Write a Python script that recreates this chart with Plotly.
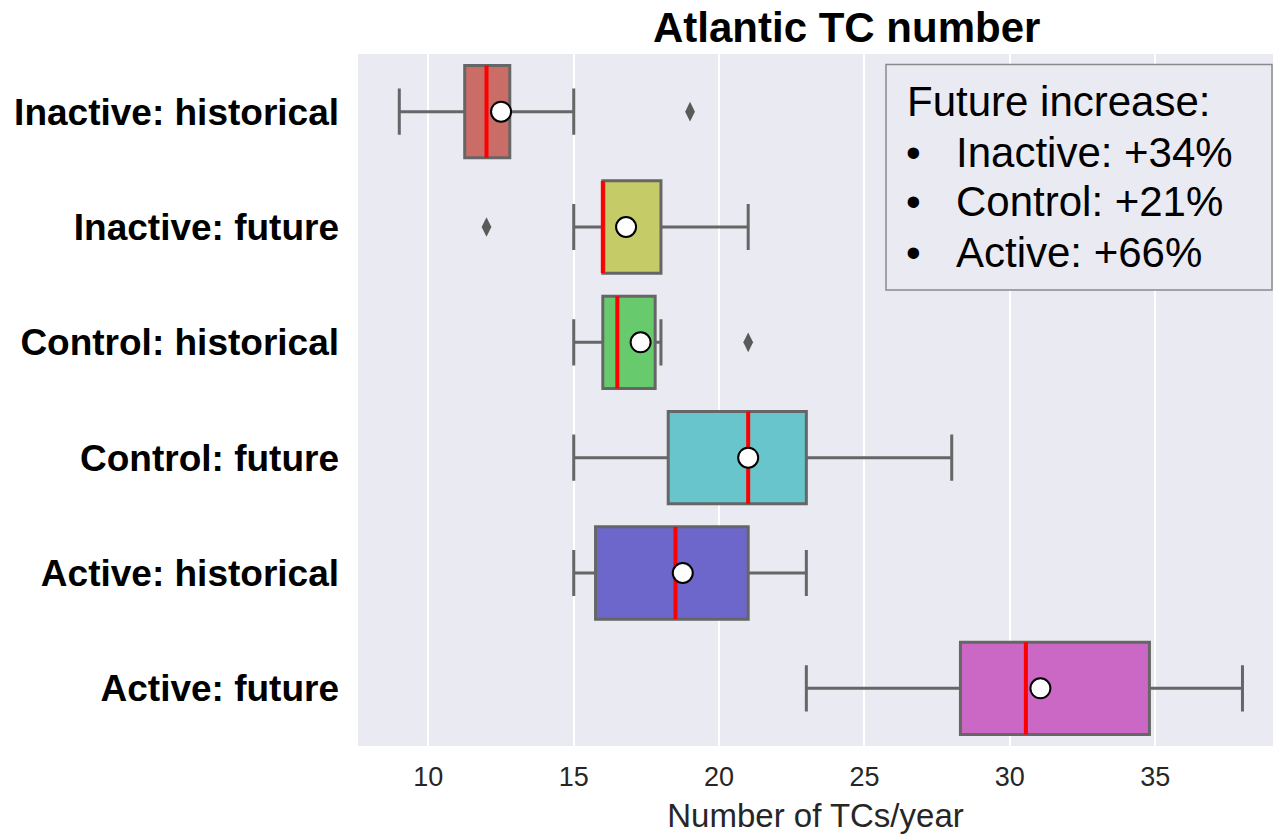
import plotly.graph_objects as go

# Box statistics of Atlantic TC counts per year, one row per experiment
categories = ["Inactive: historical", "Inactive: future", "Control: historical",
              "Control: future", "Active: historical", "Active: future"]
lower_whisker = [9.0, 15.0, 15.0, 15.0, 15.0, 23.0]
q1_vals = [11.25, 16.0, 16.0, 18.25, 15.75, 28.3]
median_vals = [12.0, 16.0, 16.5, 21.0, 18.5, 30.55]
q3_vals = [12.8, 18.0, 17.8, 23.0, 21.0, 34.8]
upper_whisker = [15.0, 21.0, 18.0, 28.0, 23.0, 38.0]
mean_vals = [12.5, 16.8, 17.3, 21.0, 18.75, 31.05]
outlier_cat = [0, 1, 2]
outlier_vals = [19.0, 12.0, 21.0]

box_colors = ["#CB6D67", "#C5CB67", "#67CB6D", "#67C5CB", "#6D67CB", "#CB67C5"]

legend_title = "Future increase:"
legend_items = ["Inactive: +34%", "Control: +21%", "Active: +66%"]

W, H = 1273, 835
L, R, T, B = 358, 0, 54, 89
PW, PH = W - L - R, H - T - B
FONT = "Liberation Sans, Arial, sans-serif"


def px(xp):
    return (xp - L) / PW


def py(yp):
    return 1 - (yp - T) / PH


fig = go.Figure()

for i, cat in enumerate(categories):
    fig.add_trace(go.Box(
        y=[i], q1=[q1_vals[i]], median=[median_vals[i]], q3=[q3_vals[i]],
        lowerfence=[lower_whisker[i]], upperfence=[upper_whisker[i]],
        orientation="h", width=0.8, whiskerwidth=0.5,
        fillcolor=box_colors[i], line=dict(color="#666666", width=3),
        boxpoints=False, showlegend=False, hoverinfo="skip",
    ))
    # red median line across the box
    fig.add_trace(go.Scatter(
        x=[median_vals[i], median_vals[i]], y=[i - 0.4, i + 0.4],
        mode="lines", line=dict(color="#FF0000", width=4),
        showlegend=False, hoverinfo="skip",
    ))

# outliers
fig.add_trace(go.Scatter(
    x=outlier_vals, y=outlier_cat, mode="markers",
    marker=dict(symbol="diamond-tall", size=14, color="#5A5A5A"),
    showlegend=False, hoverinfo="skip",
))

# means
fig.add_trace(go.Scatter(
    x=mean_vals, y=list(range(len(categories))), mode="markers",
    marker=dict(symbol="circle", size=20, color="white",
                line=dict(color="black", width=2)),
    showlegend=False, hoverinfo="skip",
))

# text box with future increases
fig.add_shape(type="rect", xref="paper", yref="paper",
              x0=px(886), x1=px(1272), y0=py(290), y1=py(64.5),
              fillcolor="#EAEAF2", line=dict(color="#8A8A8A", width=1.5),
              layer="above")

box_font = dict(family=FONT, size=42, color="black")
fig.add_annotation(text=legend_title, xref="paper", yref="paper",
                   x=px(905), y=py(102), xanchor="left", yanchor="middle",
                   showarrow=False, font=box_font)
for k, item in enumerate(legend_items):
    yc = 152 + k * 50
    fig.add_annotation(text="•", xref="paper", yref="paper",
                       x=px(913), y=py(yc), xanchor="center", yanchor="middle",
                       showarrow=False, font=box_font)
    fig.add_annotation(text=item, xref="paper", yref="paper",
                       x=px(954), y=py(yc), xanchor="left", yanchor="middle",
                       showarrow=False, font=box_font)

# chart title
fig.add_annotation(text="Atlantic TC number", xref="paper", yref="paper",
                   x=px(846), y=py(27), xanchor="center", yanchor="middle",
                   showarrow=False,
                   font=dict(family=FONT, size=42, color="black", weight="bold"))

fig.update_layout(
    width=W, height=H,
    margin=dict(l=L, r=R, t=T, b=B, pad=0),
    paper_bgcolor="white", plot_bgcolor="#EAEAF2",
    xaxis=dict(
        range=[7.58, 39.05], tickvals=[10, 15, 20, 25, 30, 35],
        showgrid=True, gridcolor="white", gridwidth=1.5,
        zeroline=False, showline=False, ticks="",
        ticklabelstandoff=12,
        tickfont=dict(family=FONT, size=27, color="#262626"),
        title=dict(text="Number of TCs/year", standoff=12,
                   font=dict(family=FONT, size=33, color="#262626")),
    ),
    yaxis=dict(
        range=[5.5, -0.5], tickvals=list(range(len(categories))), ticktext=categories,
        showgrid=False, zeroline=False, showline=False, ticks="",
        ticklabelstandoff=18,
        tickfont=dict(family=FONT, size=37, color="black", weight="bold"),
    ),
)

fig.write_html("out.html")
